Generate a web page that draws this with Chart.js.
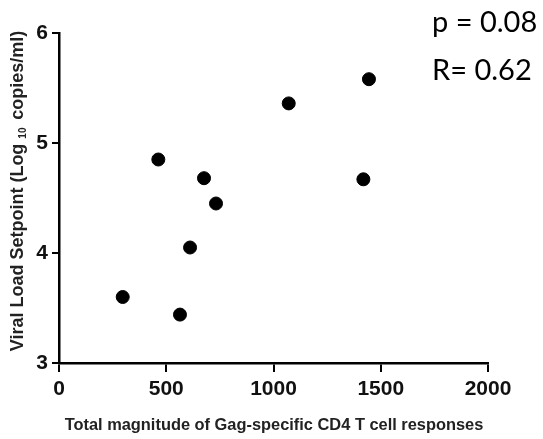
<!DOCTYPE html>
<html lang="en">
<head>
  <meta charset="UTF-8">
  <title>Viral load setpoint vs CD4 responses</title>
  <script src="https://cdn.jsdelivr.net/npm/chart.js"></script>
  <style>
    html, body { margin: 0; padding: 0; background: #fff; }
    #wrap { width: 543px; height: 439px; }
  </style>
</head>
<body>
  <div id="wrap">
    <canvas id="scatterChart" width="543" height="439"></canvas>
  </div>

  <script>
    // Gag-specific CD4 T cell response magnitude vs viral load setpoint
    const cd4Responses = [297, 564, 611, 463, 676, 732, 1071, 1445, 1419];
    const viralSetpoints = [3.60, 3.44, 4.05, 4.85, 4.68, 4.45, 5.36, 5.58, 4.67];

    const xTicks = [0, 500, 1000, 1500, 2000];
    const yTicks = [3, 4, 5, 6];

    const xTitle = "Total magnitude of Gag-specific CD4 T cell responses";
    const yTitleParts = ["Viral Load Setpoint (Log ", "10", " copies/ml)"];
    const statLines = ["p = 0.08", "R= 0.62"];

    const points = cd4Responses.map((x, i) => ({ x: x, y: viralSetpoints[i] }));

    // axis titles and the stats text, drawn by hand so the subscript works
    const labelsPlugin = {
      id: "labels",
      afterDraw(chart) {
        const ctx = chart.ctx;
        ctx.save();
        ctx.fillStyle = "#222";

        // x title
        ctx.font = "bold 16.4px 'Liberation Sans', Arial, sans-serif";
        ctx.textAlign = "center";
        ctx.textBaseline = "alphabetic";
        ctx.fillText(xTitle, 274, 430);

        // y title, rotated, with subscript 10
        const big = "bold 18px 'Liberation Sans', Arial, sans-serif";
        const small = "bold 10px 'Liberation Sans', Arial, sans-serif";
        ctx.font = big;
        const w0 = ctx.measureText(yTitleParts[0]).width;
        const w2 = ctx.measureText(yTitleParts[2]).width;
        ctx.font = small;
        const w1 = ctx.measureText(yTitleParts[1] + " ").width;
        const total = w0 + w1 + w2;
        ctx.translate(23, 191);
        ctx.rotate(-Math.PI / 2);
        ctx.textAlign = "left";
        let pos = -total / 2;
        ctx.font = big;
        ctx.fillText(yTitleParts[0], pos, 0);
        pos += w0;
        ctx.font = small;
        ctx.fillText(yTitleParts[1], pos, 3);
        pos += w1;
        ctx.font = big;
        ctx.fillText(yTitleParts[2], pos, 0);
        ctx.setTransform(1, 0, 0, 1, 0, 0);

        // correlation stats, top right
        ctx.fillStyle = "#000";
        ctx.font = "29px Lato, 'Open Sans', sans-serif";
        ctx.textAlign = "left";
        ctx.fillText(statLines[0], 432, 32);
        ctx.fillText(statLines[1], 432, 80);
        ctx.restore();
      }
    };

    const tickFont = { family: "'Liberation Sans', Arial, sans-serif", size: 21, weight: "bold" };
    const plainNumber = v => String(v);

    new Chart(document.getElementById("scatterChart").getContext("2d"), {
      type: "scatter",
      data: {
        datasets: [{
          data: points,
          backgroundColor: "#000",
          borderColor: "#000",
          pointRadius: 6.5,
          pointHoverRadius: 6.5,
        }],
      },
      options: {
        responsive: false,
        animation: false,
        layout: { padding: { left: 0, top: 33, right: 55, bottom: 0 } },
        plugins: {
          legend: { display: false },
          tooltip: { enabled: false },
        },
        scales: {
          x: {
            type: "linear",
            min: 0,
            max: 2000,
            afterFit(scale) { scale.height = 76; },
            afterBuildTicks(scale) { scale.ticks = xTicks.map(v => ({ value: v })); },
            grid: { drawOnChartArea: false, drawTicks: true, tickLength: 9, color: "#000", lineWidth: 2 },
            border: { color: "#000", width: 2.5 },
            ticks: { color: "#111", font: tickFont, padding: 5, maxRotation: 0, callback: plainNumber },
          },
          y: {
            type: "linear",
            min: 3,
            max: 6,
            afterFit(scale) { scale.width = 59; },
            afterBuildTicks(scale) { scale.ticks = yTicks.map(v => ({ value: v })); },
            grid: { drawOnChartArea: false, drawTicks: true, tickLength: 7, color: "#000", lineWidth: 2 },
            border: { color: "#000", width: 2.5 },
            ticks: { color: "#111", font: tickFont, padding: 4, callback: plainNumber },
          },
        },
      },
      plugins: [labelsPlugin],
    });
  </script>
</body>
</html>
